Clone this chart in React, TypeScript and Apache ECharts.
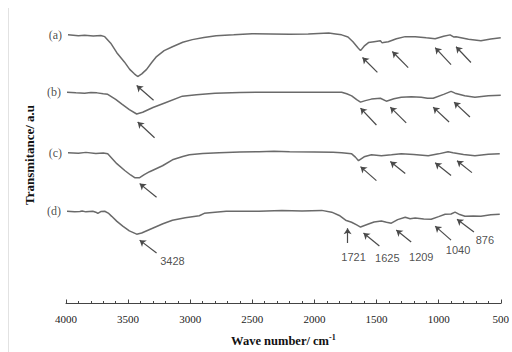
import React, { useEffect, useRef } from "react";
import * as echarts from "echarts";

// wavenumber (cm-1), transmittance (arbitrary units, offset per trace)
const curveA: [number, number][] = [
  [3984, 90.3], [3900, 90.0], [3850, 90.2], [3780, 89.9], [3720, 90.1], [3688, 89.7], [3640, 87.5], [3591, 84.3], [3530, 81.2], [3487, 78.7], [3450, 77.2], [3423, 76.3], [3390, 77.2], [3351, 78.7], [3310, 81], [3271, 83], [3210, 85], [3143, 86.3], [3060, 87.8], [2983, 88.7], [2890, 89.4], [2791, 90], [2650, 90.3], [2502, 90.7], [2350, 90.6], [2200, 90.5], [2050, 90.6], [1885, 90.9], [1830, 90.6], [1781, 90.3], [1730, 89.6], [1690, 88], [1650, 86], [1629, 85], [1600, 86.5], [1565, 87.7], [1520, 88], [1469, 88.3], [1455, 87.6], [1445, 87.7], [1405, 88], [1340, 89], [1269, 89.7], [1189, 89.7], [1100, 89.3], [1028, 89], [960, 89.8], [908, 90.3], [880, 89.6], [860, 89.7], [760, 88.8], [660, 88.3], [580, 88.9], [500, 89.3],
];
const curveB: [number, number][] = [
  [3992, 71], [3920, 70.8], [3850, 70.7], [3800, 70.9], [3750, 70.8], [3700, 70.5], [3664, 70.3], [3600, 68.6], [3550, 67], [3490, 65.2], [3431, 63.7], [3383, 64.3], [3300, 65.9], [3200, 67.5], [3063, 69.7], [2950, 70.2], [2800, 70.7], [2600, 70.9], [2446, 71], [2300, 71], [2100, 71], [1940, 71], [1781, 71], [1740, 70.5], [1700, 69.8], [1660, 68.5], [1629, 67.7], [1590, 68.2], [1541, 68.7], [1469, 69], [1421, 68], [1360, 68.8], [1301, 69.3], [1220, 69.5], [1140, 69.3], [1090, 69], [1044, 69], [960, 70.3], [900, 71.3], [868, 70.7], [790, 69.8], [708, 69.3], [600, 69.8], [500, 70],
];
const curveC: [number, number][] = [
  [3984, 50.7], [3900, 50.5], [3840, 50.8], [3760, 50.4], [3700, 50.6], [3664, 50.3], [3591, 47], [3527, 44.7], [3480, 43.2], [3447, 42.3], [3407, 42.3], [3370, 43.3], [3327, 44.3], [3223, 46.3], [3143, 48.3], [3060, 49.4], [3007, 50], [2900, 50.4], [2767, 50.7], [2600, 50.9], [2446, 51], [2326, 51.2], [2200, 51], [2000, 50.9], [1850, 50.8], [1781, 50.7], [1700, 50.3], [1670, 49.2], [1645, 48], [1600, 49.3], [1541, 50], [1461, 49.7], [1380, 50], [1301, 50.3], [1200, 50.1], [1084, 49.7], [1000, 50.3], [924, 51], [884, 50.7], [800, 50.1], [708, 49.7], [600, 50.2], [508, 50.3],
];
const curveD: [number, number][] = [
  [3992, 31], [3930, 30.8], [3888, 30.9], [3870, 31.1], [3840, 30.8], [3784, 31], [3760, 30.7], [3744, 30.3], [3720, 30.9], [3688, 31], [3660, 30.4], [3632, 29.3], [3590, 27.6], [3543, 26], [3490, 24.4], [3431, 23.3], [3391, 23.7], [3303, 25.3], [3220, 26.8], [3143, 28], [3040, 28.8], [2927, 29.5], [2887, 30.3], [2800, 30.7], [2710, 31], [2600, 31], [2446, 31], [2262, 31.3], [2100, 31.1], [1941, 31.3], [1861, 30.7], [1800, 29.6], [1749, 28], [1701, 27.3], [1660, 26.4], [1629, 25.7], [1565, 26.7], [1520, 27.4], [1461, 27.7], [1420, 27.3], [1381, 27], [1330, 28.2], [1269, 29], [1230, 28.5], [1189, 28.7], [1120, 28.4], [1060, 28.3], [1000, 29.2], [948, 30], [900, 30.1], [868, 30.7], [830, 29.9], [788, 29.3], [720, 29.4], [660, 29.3], [580, 29.8], [508, 30],
];
const curves = [curveA, curveB, curveC, curveD];
const curveNames = ["(a)", "(b)", "(c)", "(d)"];

// arrows: [tail, head]
const arrows: [[number, number], [number, number]][] = [
  [[3295, 68.3], [3431, 73.3]],
  [[1493, 77.7], [1613, 82.7]],
  [[1245, 79.3], [1373, 84.7]],
  [[900, 80.3], [1028, 86]],
  [[740, 81], [860, 86.3]],
  [[3287, 55.7], [3423, 61]],
  [[1501, 60], [1629, 65.7]],
  [[1261, 60.7], [1389, 66]],
  [[916, 61], [1044, 66]],
  [[748, 62.7], [876, 67.7]],
  [[3271, 35.7], [3407, 40.3]],
  [[1501, 41.3], [1629, 46]],
  [[1269, 43.7], [1389, 47.7]],
  [[900, 43], [1028, 47.3]],
  [[732, 44], [852, 48]],
  [[3271, 17], [3407, 21.3]],
  [[1733, 20.3], [1733, 25.3]],
  [[1477, 19.3], [1605, 23.7]],
  [[1221, 20.7], [1341, 24.7]],
  [[900, 21.3], [1028, 26]],
  [[716, 24], [852, 28.3]],
];

const peakLabels = ["3428", "1721", "1625", "1209", "1040", "876"];
const peakLabelPos: [number, number][] = [
  [3143, 14.3], [1685, 15.7], [1413, 15.3], [1140, 15.7], [844, 18], [628, 21.3],
];

const xTickLabels = ["4000", "3500", "3000", "2500", "2000", "1500", "1000", "500"];

export default function App() {
  const ref = useRef<HTMLDivElement>(null);
  useEffect(() => {
    if (!ref.current) return;
    const chart = echarts.init(ref.current, undefined, { renderer: "svg" });
    const lineColor = "#6a6a6a";
    const series: any[] = curves.map((c) => ({
      type: "line",
      data: c,
      showSymbol: false,
      symbol: "none",
      lineStyle: { color: lineColor, width: 1.5 },
      z: 3,
    }));
    series.push({
      type: "scatter",
      symbolSize: 0,
      itemStyle: { color: "#222" },
      data: curves.map((c, i) => ({ value: c[0], name: curveNames[i] })),
      label: {
        show: true,
        position: "left",
        distance: 6,
        formatter: (p: any) => p.name,
        fontFamily: "Liberation Serif",
        fontSize: 12,
        color: "#1a1a1a",
      },
      silent: true,
    });
    series.push({
      type: "lines",
      coordinateSystem: "cartesian2d",
      data: arrows.map((a) => ({ coords: [a[0], a[1]] })),
      symbol: ["none", "arrow"],
      symbolSize: 6,
      lineStyle: { color: "#4a4a4a", width: 1.2, opacity: 1 },
      silent: true,
    });
    series.push({
      type: "scatter",
      symbolSize: 0,
      itemStyle: { color: "#222" },
      data: peakLabelPos.map((p, i) => ({ value: p, name: peakLabels[i] })),
      label: {
        show: true,
        position: "inside",
        formatter: (p: any) => p.name,
        fontFamily: "Liberation Sans",
        fontSize: 11,
        color: "#222",
      },
      silent: true,
    });
    chart.setOption({
      animation: false,
      backgroundColor: "#fff",
      grid: { left: 66, right: 9, top: 6, bottom: 46 },
      xAxis: {
        type: "value",
        min: 500,
        max: 4000,
        interval: 500,
        inverse: true,
        axisLine: { show: true, lineStyle: { color: "#444", width: 1 } },
        axisTick: { show: true, inside: true, length: 4, lineStyle: { color: "#444" } },
        minorTick: { show: true, splitNumber: 5, length: 2.5, lineStyle: { color: "#444" } },
        splitLine: { show: false },
        axisLabel: {
          margin: 10,
          fontFamily: "Liberation Serif",
          fontSize: 11,
          color: "#222",
          formatter: (v: number) => (xTickLabels.includes(String(v)) ? String(v) : ""),
        },
        name: "{b|Wave number/ cm}{s|-1}",
        nameLocation: "middle",
        nameGap: 30,
        nameTextStyle: {
          rich: {
            b: { fontFamily: "Liberation Serif", fontWeight: "bold", fontSize: 12.5, color: "#111" },
            s: { fontFamily: "Liberation Serif", fontWeight: "bold", fontSize: 8, color: "#111", verticalAlign: "top", padding: [0, 0, 6, 0] },
          },
        },
      },
      yAxis: {
        type: "value",
        min: 0,
        max: 100,
        show: false,
      },
      graphic: [
        {
          type: "line",
          shape: { x1: 8.5, y1: 8, x2: 8.5, y2: 352 },
          style: { stroke: "#e2e2e2", lineWidth: 1 },
        },
        {
          type: "text",
          x: 29,
          y: 155,
          rotation: Math.PI / 2,
          style: {
            text: "Transmitance/ a.u",
            fontFamily: "Liberation Serif",
            fontWeight: "bold",
            fontSize: 13,
            fill: "#111",
            align: "center",
            verticalAlign: "middle",
          },
        },
      ],
      series,
    });
    return () => chart.dispose();
  }, []);
  return (
    <div
      ref={ref}
      style={{ position: "absolute", left: 0, top: 0, width: 512, height: 352 }}
    />
  );
}
